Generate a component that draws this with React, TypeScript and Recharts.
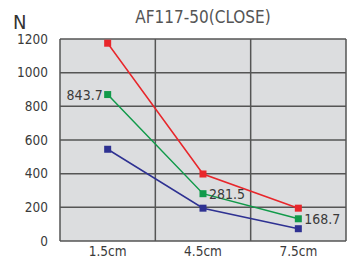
import React from 'react';
import { LineChart, Line, XAxis, YAxis, CartesianGrid, LabelList } from 'recharts';

const categories = ['1.5cm', '4.5cm', '7.5cm'];
const redValues = [1175, 398, 195];
const greenValues = [870, 281, 132];
const blueValues = [545, 195, 73];
const greenLabels = ['843.7', '281.5', '168.7'];
const yTicks = [0, 200, 400, 600, 800, 1000, 1200];

const data = categories.map((c, i) => ({
  x: i + 0.5,
  name: c,
  red: redValues[i],
  green: greenValues[i],
  blue: blueValues[i],
  label: greenLabels[i],
}));

const FONT = '"DejaVu Sans Condensed", "Liberation Sans Narrow", "Noto Sans", sans-serif';

const SquareDot = (color: string) => (props: any) => {
  const { cx, cy, index } = props;
  if (cx == null || cy == null) return null;
  return <rect key={index} x={cx - 3.5} y={cy - 3.5} width={7} height={7} fill={color} />;
};

const GreenLabel = (props: any) => {
  const { x, y, index } = props;
  const left = index === 0;
  return (
    <text
      x={left ? x - 5 : x + 6}
      y={y + 5}
      textAnchor={left ? 'end' : 'start'}
      fontSize={14}
      fill="#3a3a3a"
      fontFamily={FONT}
    >
      {greenLabels[index]}
    </text>
  );
};

export default function App() {
  return (
    <div style={{ position: 'fixed', left: 0, top: 0, width: 350, height: 265, background: '#fff', fontFamily: FONT }}>
      <div style={{ position: 'absolute', left: 60, width: 286, top: 7, textAlign: 'center', fontSize: 17, color: '#555' }}>
        AF117-50(CLOSE)
      </div>
      <div style={{ position: 'absolute', left: 13, top: 10, fontSize: 20, color: '#333' }}>N</div>
      <LineChart width={350} height={265} data={data} margin={{ top: 39, right: 4, bottom: 0, left: 10 }}>
        <XAxis
          xAxisId="main"
          type="number"
          dataKey="x"
          domain={[0, 3]}
          ticks={[0.5, 1.5, 2.5]}
          tickFormatter={(v: number) => categories[Math.floor(v)]}
          axisLine={false}
          tickLine={false}
          tickSize={0}
          tickMargin={5}
          height={24}
          tick={{ fontSize: 13.5, fill: '#3a3a3a', fontFamily: FONT }}
        />
        <XAxis xAxisId="grid" type="number" dataKey="x" domain={[0, 3]} ticks={[0, 1, 2, 3]} height={0} hide />
        <YAxis
          type="number"
          domain={[0, 1200]}
          ticks={yTicks}
          width={50}
          axisLine={false}
          tickLine={false}
          tickSize={0}
          tickMargin={12}
          interval={0}
          tick={{ fontSize: 13.5, fill: '#3a3a3a', fontFamily: FONT }}
        />
        <CartesianGrid xAxisId="grid" stroke="#555" strokeWidth={1.5} fill="#dcdddf" fillOpacity={1} />
        <Line xAxisId="main" dataKey="red" stroke="#e8262b" strokeWidth={1.5} dot={SquareDot('#e8262b')} isAnimationActive={false} />
        <Line xAxisId="main" dataKey="green" stroke="#119a4a" strokeWidth={1.5} dot={SquareDot('#119a4a')} isAnimationActive={false}>
          <LabelList dataKey="label" content={GreenLabel} />
        </Line>
        <Line xAxisId="main" dataKey="blue" stroke="#2e3192" strokeWidth={1.5} dot={SquareDot('#2e3192')} isAnimationActive={false} />
      </LineChart>
    </div>
  );
}
